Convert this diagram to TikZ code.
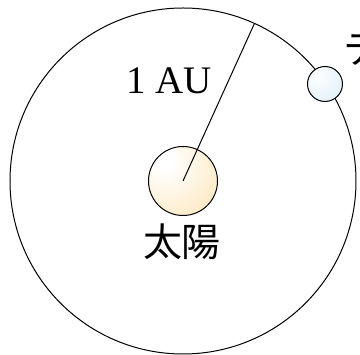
\documentclass[tikz,border=0pt]{standalone}
\usepackage{fontspec}
\usetikzlibrary{calc}
\setmainfont{Liberation Serif}
\newfontfamily\cjk{Noto Sans CJK JP}
\definecolor{sunc}{HTML}{FCDDA0}
\definecolor{planc}{HTML}{D4E9F8}
\pgfdeclareradialshading{sunshade}{\pgfpoint{-15bp}{15bp}}{color(0bp)=(white); color(6bp)=(white); color(60bp)=(sunc); color(100bp)=(sunc)}
\pgfdeclareradialshading{planshade}{\pgfpoint{-12bp}{12bp}}{color(0bp)=(white); color(55bp)=(planc); color(100bp)=(planc)}
\begin{document}
\begin{tikzpicture}[x=1pt,y=1pt,
  orbit/.style={draw=black, line width=1pt},
  body/.style={circle, draw=black, line width=1pt, inner sep=0pt},
  lbl/.style={inner sep=0pt, font=\fontsize{39}{39}\selectfont}]
\useasboundingbox (0,0) rectangle (360,355);
\clip (0,0) rectangle (360,355);
\fill[white] (0,0) rectangle (360,355);
\coordinate (c) at (183,174);
\draw[orbit] (c) circle[radius=173];
\coordinate (r) at ($(c)+(65.6:173)$);
\node[body, minimum size=69pt, shading=sunshade] (sun) at (c) {};
\draw[line width=1pt] (sun.center) -- (r);
\node[body, minimum size=35pt, shading=planshade] (planet) at (325,271) {};
\node[lbl, anchor=base] (au) at (169,261) {1 AU};
\node[lbl, anchor=base, font=\cjk\fontsize{39}{39}\selectfont] (sunlbl) at (182,98) {太陽};
\node[lbl, anchor=base west, font=\cjk\fontsize{39}{39}\selectfont] (plbl) at (343,291) {テ};
\end{tikzpicture}
\end{document}
